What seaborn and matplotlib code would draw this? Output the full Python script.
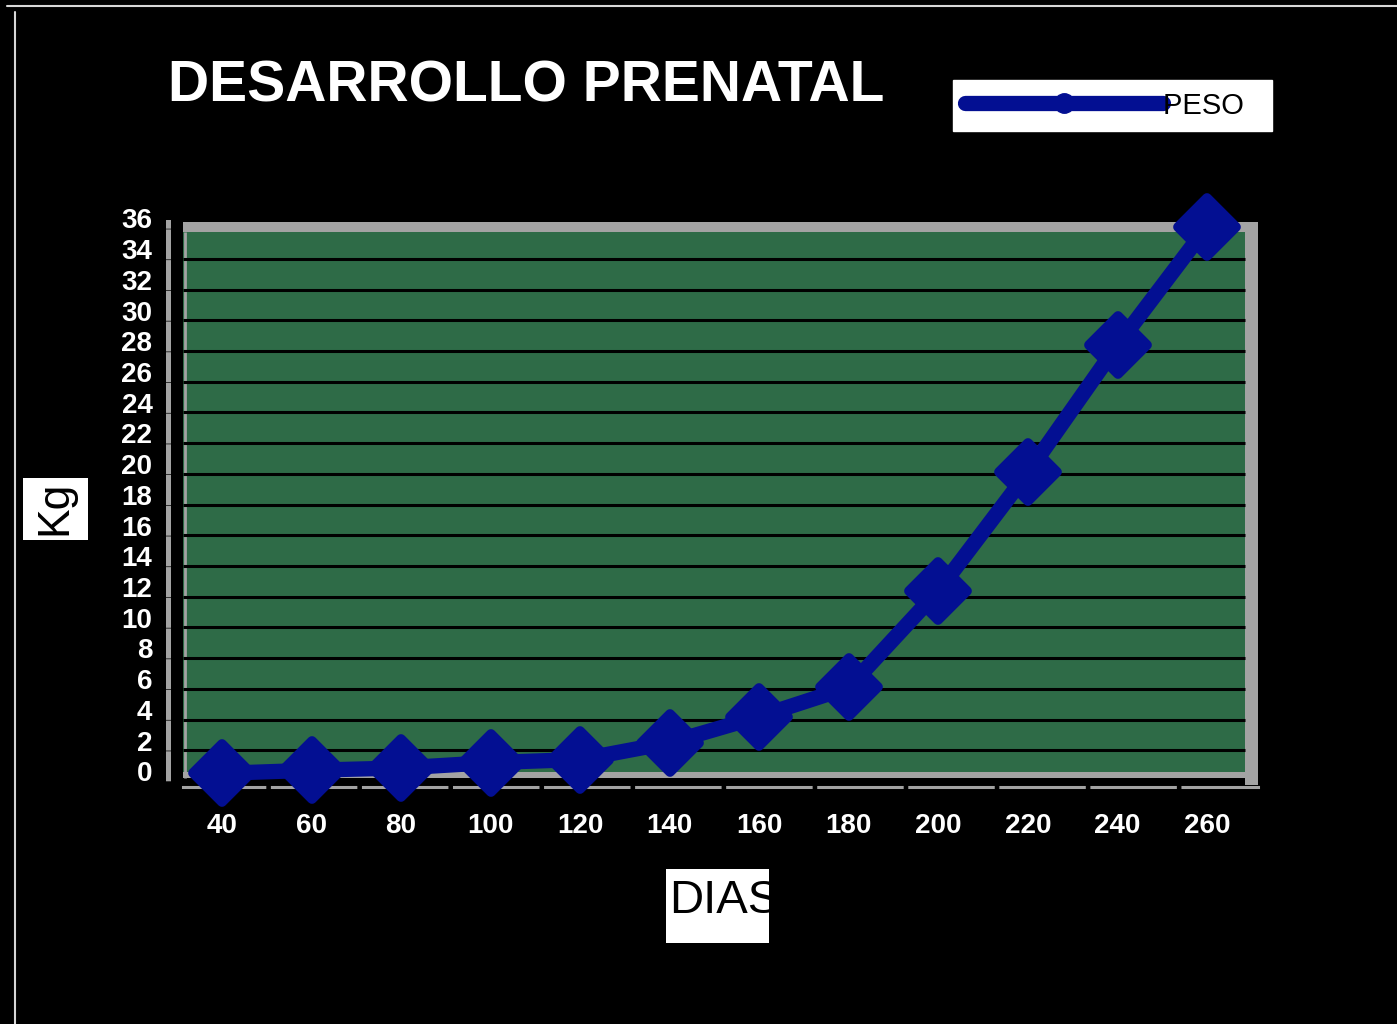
import numpy as np
import pandas as pd
import matplotlib.pyplot as plt
import matplotlib.patches as mpatches
from matplotlib.lines import Line2D
from matplotlib.markers import MarkerStyle
from matplotlib.transforms import ScaledTranslation
import seaborn as sns

# data
dias = [40, 60, 80, 100, 120, 140, 160, 180, 200, 220, 240, 260]
peso = [0.5, 0.7, 0.85, 1.2, 1.4, 2.5, 4.2, 6.1, 12.4, 20.1, 28.4, 36.1]
y_ticks = list(range(0, 37, 2))

df = pd.DataFrame({"dia": [str(d) for d in dias], "peso": peso})
df["pos"] = np.arange(len(df))

sns.set_style("dark", {"axes.facecolor": "black", "figure.facecolor": "black"})
plt.rcParams["font.family"] = ["Liberation Sans", "DejaVu Sans"]

BLUE = "#030f92"
GRAY = "#a3a3a3"
GREEN = "#2e6b47"

W, H = 1397, 1024
fig = plt.figure(figsize=(W / 100, H / 100), dpi=100, facecolor="black")


def fx(px):
    return px / W


def fy(py):
    return 1 - py / H


# axes box in pixels
ax_l, ax_r, ax_t, ax_b = 183, 1258, 222, 781
ax = fig.add_axes([fx(ax_l), fy(ax_b), (ax_r - ax_l) / W, (ax_b - ax_t) / H])
ax.set_facecolor("black")

step = 89.55
x0 = -(222 - ax_l) / step
x1 = (ax_r - 222) / step
xg = (1245 - 222) / step
ytop = 36.4

# spines first (moving a spine resets the ticks)
for side in ["top", "right"]:
    ax.spines[side].set_visible(False)
ax.spines["left"].set_position(("outward", 11))
ax.spines["left"].set_color(GRAY)
ax.spines["left"].set_linewidth(3.6)
ax.spines["left"].set_linestyle((5.6, (5, 1.14)))
ax.spines["bottom"].set_position(("outward", 4))
ax.spines["bottom"].set_color(GRAY)
ax.spines["bottom"].set_linewidth(2.2)
ax.spines["bottom"].set_linestyle((0.7, (27.3, 2.5)))

# plot wall, floor and frame strips
ax.add_patch(mpatches.Rectangle((x0, 0.6), xg - x0, 35.75 - 0.6,
                                facecolor=GREEN, edgecolor="none", zorder=0.5))
ax.add_patch(mpatches.Rectangle((x0, 0.2), xg - x0, 0.4,
                                facecolor=GRAY, edgecolor="none", zorder=0.6))
ax.add_patch(mpatches.Rectangle((x0, 35.75), x1 - x0, ytop - 35.75,
                                facecolor=GRAY, edgecolor="none", zorder=0.6))
ax.add_patch(mpatches.Rectangle((xg, -0.26), x1 - xg, ytop + 0.26,
                                facecolor=GRAY, edgecolor="none", zorder=0.6,
                                clip_on=False))
ax.vlines(x0 + 0.02, 0.2, 35.75, color=GRAY, lw=2, zorder=0.7)

# black horizontal gridlines
ax.hlines(y_ticks[1:-1], x0, xg, color="black", lw=2.2, zorder=1)

sns.lineplot(data=df, x="pos", y="peso", ax=ax, color=BLUE, lw=11,
             marker=MarkerStyle("D", joinstyle="round"), markersize=30,
             markeredgewidth=7, markeredgecolor=BLUE, zorder=5,
             clip_on=False, legend=False)

ax.set_xlim(x0, x1)
ax.set_ylim(0, ytop)
ax.set_xticks(df["pos"])
ax.set_xticklabels(df["dia"])
ax.set_yticks(y_ticks)
ax.set_xlabel("")
ax.set_ylabel("")
ax.grid(False)

ax.tick_params(axis="both", length=0, labelcolor="white", labelsize=20)
ax.tick_params(axis="x", pad=19)
ax.tick_params(axis="y", pad=11)
for lab in ax.get_xticklabels() + ax.get_yticklabels():
    lab.set_fontweight("bold")
for lab in ax.get_yticklabels():
    lab.set_transform(lab.get_transform() + ScaledTranslation(0, 7 / 72, fig.dpi_scale_trans))

# legend
handle = Line2D([], [], color=BLUE, lw=11, marker="o", markersize=14,
                solid_capstyle="round")
leg = ax.legend(handles=[handle], labels=["PESO  "], loc="center",
                bbox_to_anchor=(fx(1112.5), fy(105.5)),
                bbox_transform=fig.transFigure, frameon=True,
                facecolor="white", edgecolor="white", framealpha=1,
                fancybox=False, fontsize=21, handlelength=6.8,
                handletextpad=0, borderpad=0.4, labelcolor="black")

# title
fig.text(fx(168), fy(102), "DESARROLLO PRENATAL", color="white",
         fontsize=41, fontweight="bold", ha="left", va="baseline")

# y label in white box
fig.add_artist(mpatches.Rectangle((fx(23), fy(540)), 65 / W, 62 / H,
                                  transform=fig.transFigure,
                                  facecolor="white", edgecolor="none"))
fig.text(fx(55), fy(508), "Kg", color="black", fontsize=32, rotation=90,
         ha="center", va="center")

# x label in white box, clipped at the right like the original
box = mpatches.Rectangle((fx(666), fy(943)), 103 / W, 74 / H,
                         transform=fig.transFigure,
                         facecolor="white", edgecolor="none")
fig.add_artist(box)
xl = fig.text(fx(669), fy(913), "DIAS", color="black", fontsize=34,
              ha="left", va="baseline")
xl.set_clip_path(box)

# thin light frame lines at top and left
fig.add_artist(Line2D([fx(7), 1], [fy(6), fy(6)], transform=fig.transFigure,
                      color="#d8d8d8", lw=1.5))
fig.add_artist(Line2D([fx(15), fx(15)], [fy(12), 0], transform=fig.transFigure,
                      color="#d8d8d8", lw=1.5))

fig.savefig("out.png", dpi=100, facecolor="black")
